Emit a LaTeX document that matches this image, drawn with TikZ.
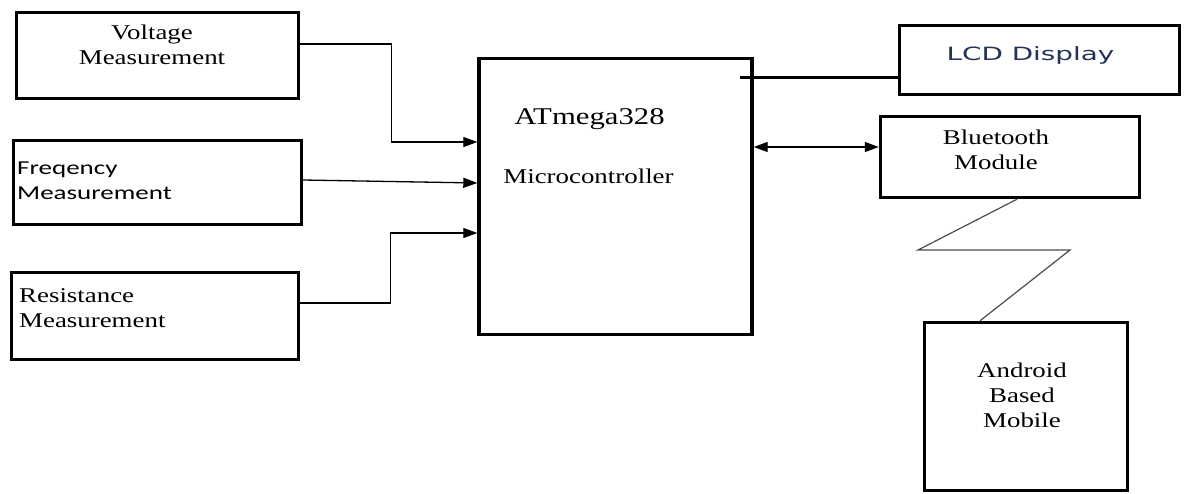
\documentclass[tikz,border=0pt]{standalone}
\usepackage{fontspec}
\setmainfont{Liberation Serif}[FakeStretch=1.28]
\newfontfamily\calfont{Carlito}[FakeStretch=1.37]
\newfontfamily\verdfont{DejaVu Sans}[FakeStretch=1.52]
\usepackage{tikz}
\usetikzlibrary{arrows.meta}
\definecolor{lcdtext}{RGB}{35,50,85}

\begin{document}
\begin{tikzpicture}[
  x=1pt, y=-1pt,
  >={Triangle[length=14pt, width=10pt]},
  blk/.style={draw, line width=3.4pt, inner sep=0pt},
  txt/.style={inner sep=0pt, font=\fontsize{21}{25}\selectfont},
  sanstxt/.style={inner sep=0pt, font=\calfont\fontsize{19.7}{24.5}\selectfont},
  arr/.style={->, line width=1.3pt},
  dbl/.style={<->, line width=1.3pt},
  bus/.style={line width=3pt},
  wave/.style={line width=1.2pt, black!70}
]
\useasboundingbox[fill=white] (0,0) rectangle (1184,493);

% blocks
\node[blk, minimum width=282pt, minimum height=86pt] (volt) at (157.5,55.5) {};
\node[blk, minimum width=288pt, minimum height=84pt] (freq) at (157.5,182.5) {};
\node[blk, minimum width=287pt, minimum height=87pt] (res) at (155,316) {};
\node[blk, minimum width=273pt, minimum height=276pt] (mcu) at (615.5,196.5) {};
\node[blk, minimum width=280pt, minimum height=69pt] (lcd) at (1039.5,60) {};
\node[blk, minimum width=259pt, minimum height=81pt] (bt) at (1010,157) {};
\node[blk, minimum width=203pt, minimum height=168pt] (mob) at (1026,406.5) {};

% labels
\node[txt, align=center, anchor=north] (voltlbl) at (152,24.5) {Voltage\\Measurement};
\node[sanstxt, align=left, anchor=north west] (freqlbl) at (17,162) {Freqency\\Measurement};
\node[txt, align=left, anchor=north west] (reslbl) at (19,288) {Resistance\\Measurement};
\node[txt, font=\fontsize{24}{29}\selectfont, anchor=north] (mculbl) at (589.5,108) {ATmega328};
\node[txt, anchor=north] (mcusub) at (588.5,168.7) {Microcontroller};
\node[inner sep=0pt, font=\verdfont\fontsize{18.3}{22}\selectfont, text=lcdtext, anchor=north] (lcdlbl) at (1030.5,46.8) {LCD Display};
\node[txt, align=center, anchor=north] (btlbl) at (996,129.7) {Bluetooth\\Module};
\node[txt, align=center, anchor=north] (moblbl) at (1022,362.7) {Android\\Based\\Mobile};

% links
\draw[arr] ([yshift=11.5pt]volt.east) -- ++(91.5,0) |- ([yshift=54.5pt]mcu.west);
\draw[arr] ([yshift=2.5pt]freq.east) -- ([yshift=13.5pt]mcu.west);
\draw[arr] ([yshift=13pt]res.east) -- ++(90,0) |- ([yshift=-36.5pt]mcu.west);

\coordinate (tap) at (740,77);
\draw[bus] (tap) -- (tap -| lcd.west);
\draw[dbl] ([yshift=10pt]bt.west -| mcu.east) -- ([yshift=10pt]bt.west);

\coordinate (z1) at (918,250);
\coordinate (z2) at (1070,250);
\draw[wave] ([xshift=7pt]bt.south) -- (z1) -- (z2) -- ([xshift=-46pt]mob.north);

\end{tikzpicture}
\end{document}
